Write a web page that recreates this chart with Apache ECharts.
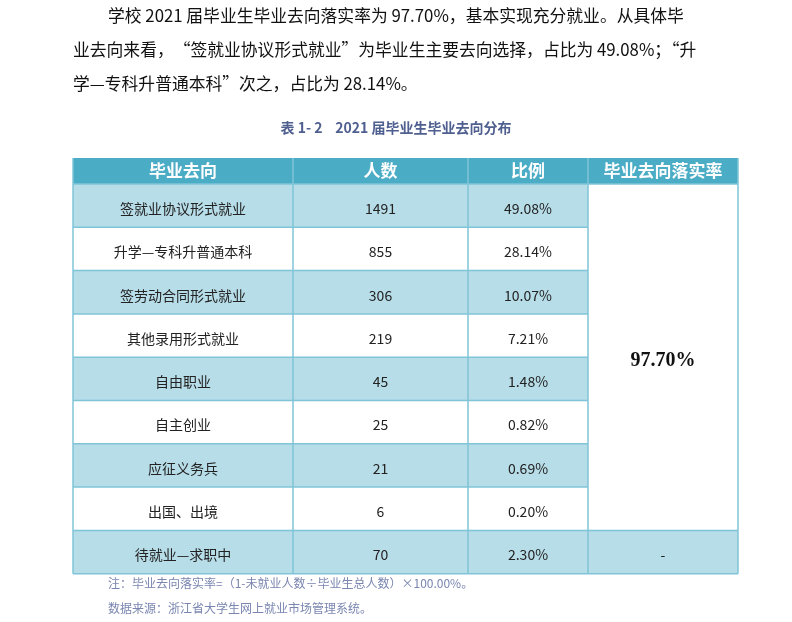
<!DOCTYPE html>
<html><head><meta charset="utf-8">
<script src="https://cdn.jsdelivr.net/npm/echarts@6/dist/echarts.min.js"></script>
<style>html,body{margin:0;padding:0;background:#fff}#c{width:792px;height:622px}</style>
</head><body><div id="c"></div>
<script>
const paragraph = [
  '学校 2021 届毕业生毕业去向落实率为 97.70%，基本实现充分就业。从具体毕',
  '业去向来看，“签就业协议形式就业”为毕业生主要去向选择，占比为 49.08%；“升',
  '学—专科升普通本科”次之，占比为 28.14%。'
];
const title = '表 1- 2    2021 届毕业生毕业去向分布';
const headers = ['毕业去向', '人数', '比例', '毕业去向落实率'];
const categories = ['签就业协议形式就业','升学—专科升普通本科','签劳动合同形式就业','其他录用形式就业','自由职业','自主创业','应征义务兵','出国、出境','待就业—求职中'];
const counts = [1491, 855, 306, 219, 45, 25, 21, 6, 70];
const ratios = ['49.08%','28.14%','10.07%','7.21%','1.48%','0.82%','0.69%','0.20%','2.30%'];
const rateText = '97.70%';
const notes = ['注：毕业去向落实率=（1-未就业人数÷毕业生总人数）×100.00%。','数据来源：浙江省大学生网上就业市场管理系统。'];

const colX = [73, 293, 468, 588, 738];
const headTop = 158, headH = 26, rowH = 43.3;
const shade = '#b7dde8', headC = '#4bacc6', line = '#7fc4d7';
const font = '"Noto Sans CJK SC", sans-serif';
const els = [];
paragraph.forEach((t, i) => els.push({type:'text', left: i===0?108:73, top: 7 + i*34,
  style:{text:t, font:'16.8px '+font, fill:'#111'}}));
els.push({type:'text', left:'center', top:121, style:{text:title, font:'bold 14px '+font, fill:'#4f5f8f'}});
els.push({type:'rect', shape:{x:colX[0], y:headTop, width:colX[4]-colX[0], height:headH}, style:{fill:headC}});
headers.forEach((h, j) => els.push({type:'text', x:(colX[j]+colX[j+1])/2, y:headTop+headH/2,
  style:{text:h, font:'bold 17px '+font, fill:'#fff', align:'center', verticalAlign:'middle'}}));
const n = categories.length;
for (let i = 0; i < n; i++) {
  const y = headTop + headH + i*rowH;
  const fill = i % 2 === 0 ? shade : '#fff';
  const last = i === n-1;
  els.push({type:'rect', shape:{x:colX[0], y, width:(last?colX[4]:colX[3])-colX[0], height:rowH}, style:{fill}});
  const vals = [categories[i], String(counts[i]), ratios[i]];
  vals.forEach((v, j) => els.push({type:'text', x:(colX[j]+colX[j+1])/2, y:y+rowH/2+3,
    style:{text:v, font:'14px '+font, fill:'#222', align:'center', verticalAlign:'middle'}}));
  els.push({type:'line', shape:{x1:colX[0], y1:y, x2:(i===0||last)?colX[4]:colX[3], y2:y}, style:{stroke:line, lineWidth:1.5}});
}
const bottom = headTop + headH + n*rowH;
els.push({type:'line', shape:{x1:colX[0], y1:bottom, x2:colX[4], y2:bottom}, style:{stroke:line, lineWidth:1.5}});
colX.forEach(x => els.push({type:'line', shape:{x1:x, y1:headTop, x2:x, y2:bottom}, style:{stroke:line, lineWidth:1.5}}));
const mergedMid = headTop + headH + (n-1)*rowH/2;
els.push({type:'text', x:(colX[3]+colX[4])/2, y:mergedMid+4, style:{text:rateText, font:'bold 20px "Liberation Serif", serif', fill:'#111', align:'center', verticalAlign:'middle'}});
els.push({type:'text', x:(colX[3]+colX[4])/2, y:bottom-rowH/2+3, style:{text:'-', font:'14px '+font, fill:'#222', align:'center', verticalAlign:'middle'}});
notes.forEach((t, i) => els.push({type:'text', left:108, top:bottom+4+i*25, style:{text:t, font:'12px '+font, fill:'#7a86b0'}}));
const chart = echarts.init(document.getElementById('c'));
chart.setOption({animation:false, graphic:{elements:els}});
</script></body></html>
